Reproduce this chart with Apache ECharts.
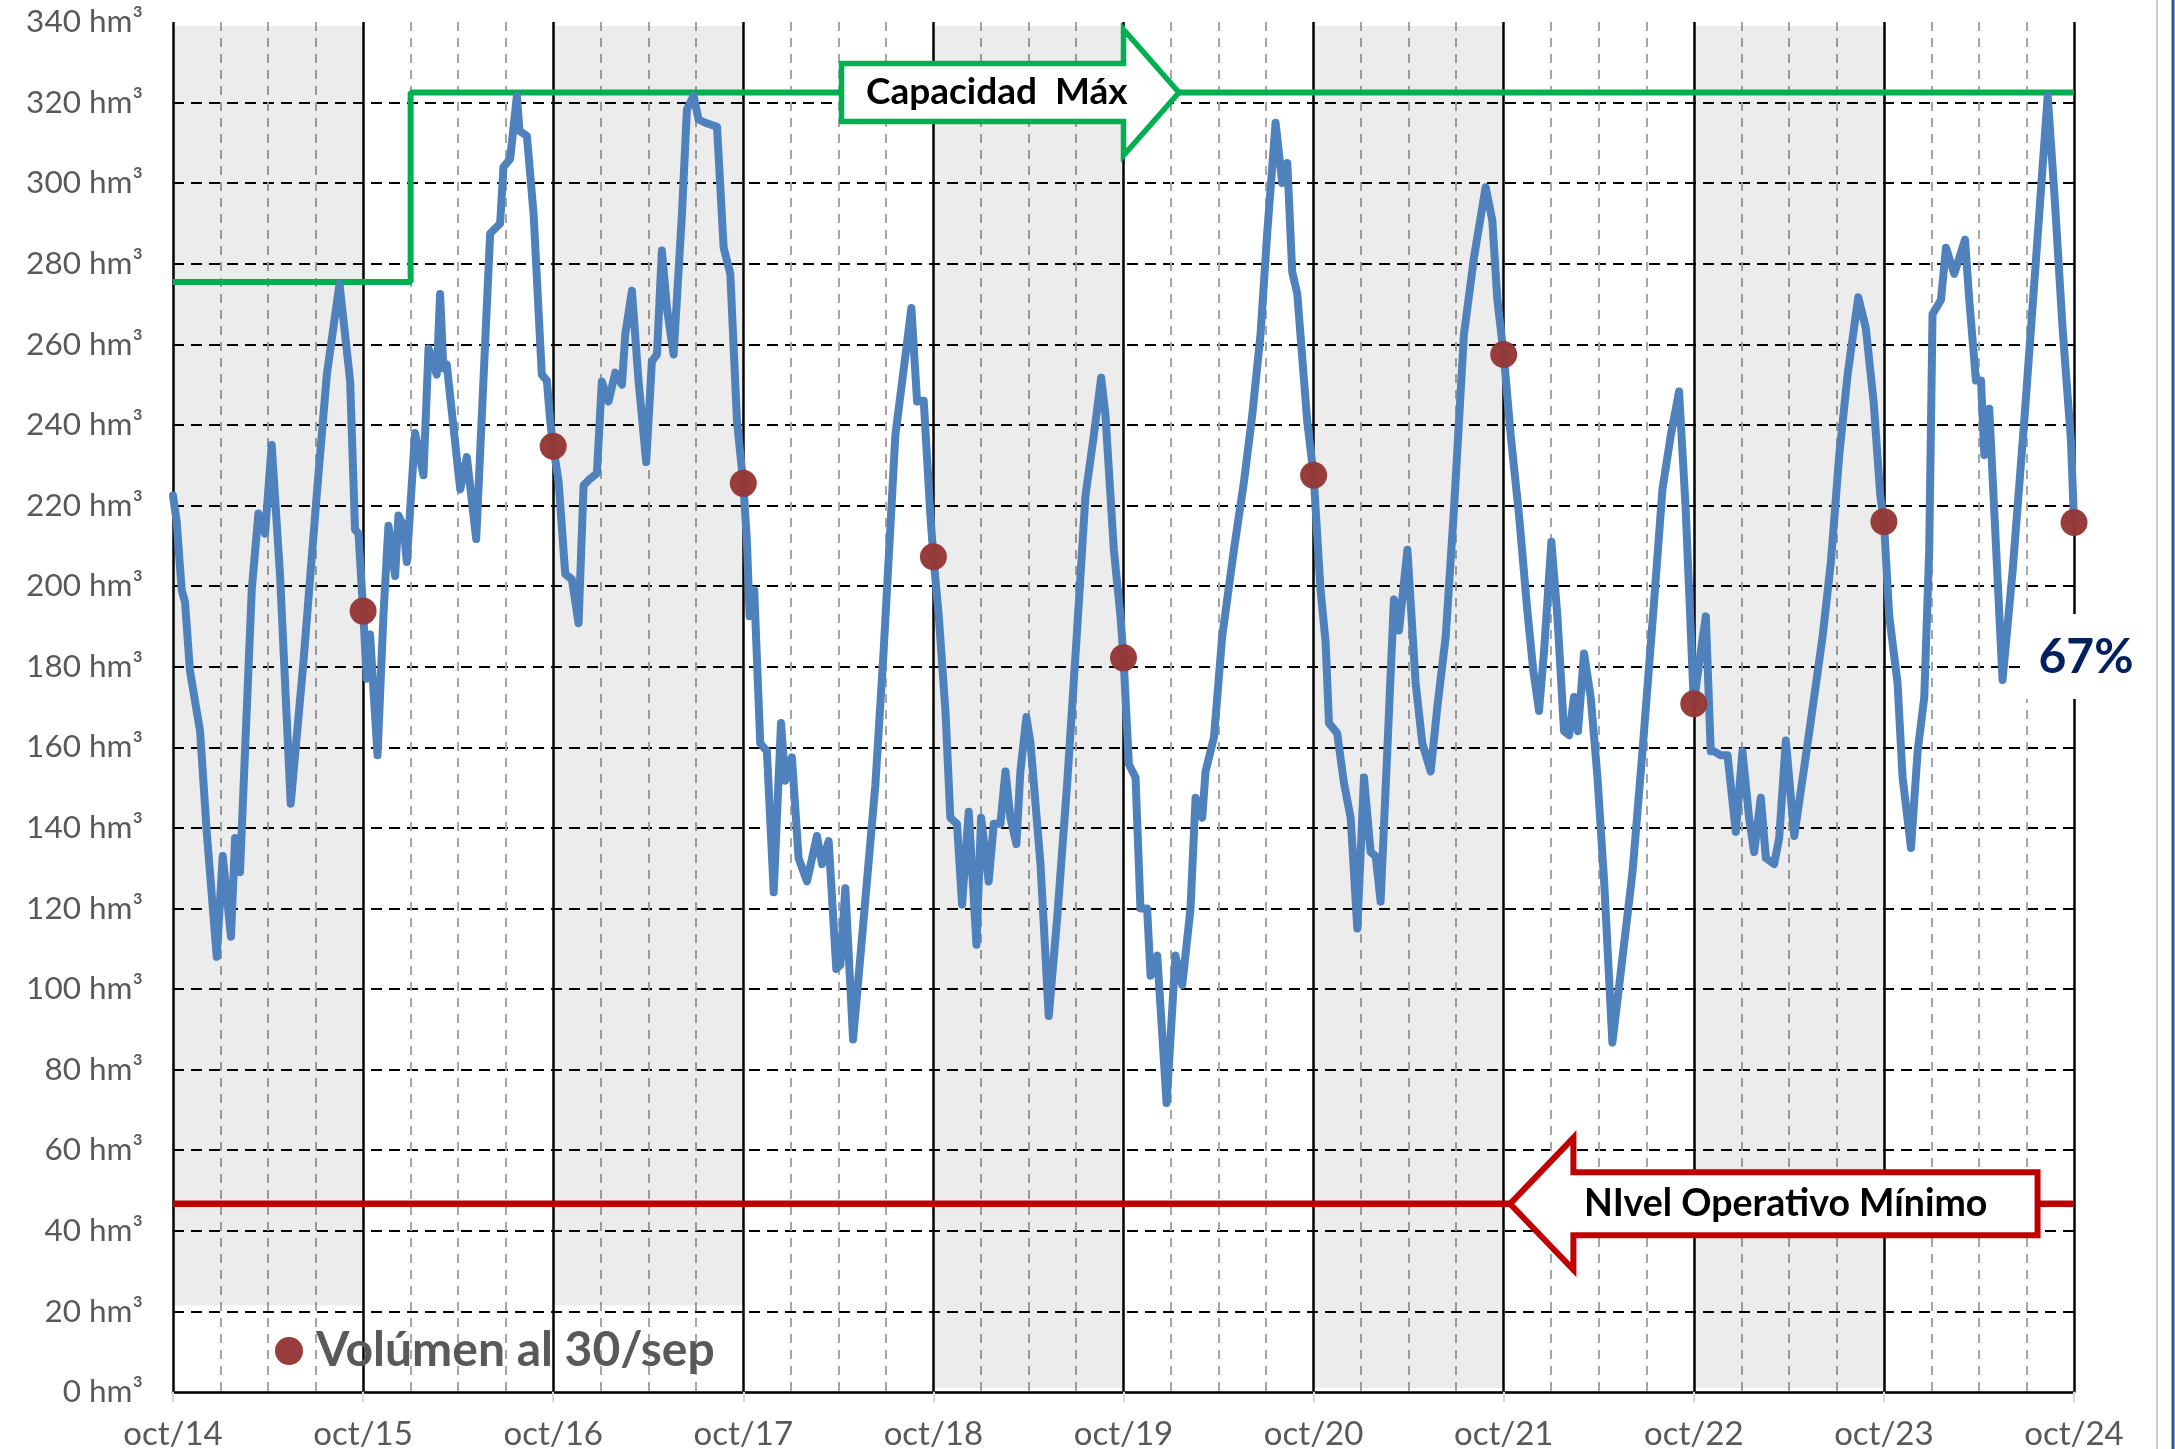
<!DOCTYPE html>
<html>
<head>
<meta charset="utf-8">
<script src="https://cdn.jsdelivr.net/npm/echarts@6/dist/echarts.min.js"></script>
<style>
  html, body { margin: 0; padding: 0; background: #fff; }
  #chart { width: 2175px; height: 1449px; }
</style>
</head>
<body>
<div id="chart"></div>
<script>
// months counted from oct/14 (0) to oct/24 (120)
const yearLabels = ['oct/14', 'oct/15', 'oct/16', 'oct/17', 'oct/18', 'oct/19', 'oct/20', 'oct/21', 'oct/22', 'oct/23', 'oct/24'];

const months = [
  0, 0.23, 0.55, 0.76, 1.07, 1.71, 2.13, 2.76, 3.14, 3.66, 3.92, 4.23, 4.97, 5.39, 5.81, 6.23, 6.76, 7.43, 8.23, 9.07, 9.71, 10.51, 11.18, 11.49, 11.71,
  12, 12.23, 12.44, 12.91, 13.28, 13.6, 14.02, 14.23, 14.55, 14.76, 15.28, 15.81, 16.13, 16.65, 16.86, 17.07, 17.28, 18.13, 18.55, 19.14, 20.02, 20.65, 20.86, 21.28, 21.71, 21.87, 22.34, 22.76, 23.28, 23.6, 23.81,
  24, 24.34, 24.76, 25.18, 25.6, 25.92, 26.34, 26.76, 27.07, 27.49, 27.92, 28.34, 28.55, 28.97, 29.39, 29.87, 30.23, 30.55, 30.86, 31.18, 31.6, 32.13, 32.44, 32.86, 33.18, 33.6, 34.34, 34.76, 35.18, 35.6,
  36, 36.23, 36.4, 36.69, 37.07, 37.49, 37.92, 38.38, 38.65, 39.07, 39.49, 40.02, 40.65, 40.97, 41.39, 41.87, 42.13, 42.44, 42.93, 43.6, 44.34, 44.86, 45.6, 46.13, 46.61, 46.97, 47.39, 47.81,
  48, 48.34, 48.76, 49.07, 49.49, 49.81, 50.23, 50.72, 51.01, 51.49, 51.81, 52.23, 52.55, 52.86, 53.24, 53.49, 53.87, 54.13, 54.76, 55.28, 55.81, 56.44, 57.07, 57.6, 58.13, 58.59, 58.86, 59.39, 59.81,
  60, 60.34, 60.76, 61.07, 61.49, 61.71, 62.13, 62.72, 63.28, 63.71, 64.23, 64.55, 64.97, 65.18, 65.71, 66.23, 66.97, 67.6, 68.13, 68.65, 69.07, 69.6, 70.02, 70.34, 70.65, 70.97, 71.6,
  72, 72.23, 72.44, 72.76, 72.97, 73.49, 73.92, 74.34, 74.76, 75.18, 75.6, 75.92, 76.23, 76.65, 77.07, 77.39, 77.92, 78.44, 78.86, 79.39, 79.81, 80.34, 80.86, 81.49, 82.13, 82.86, 83.28, 83.6,
  84, 84.44, 84.97, 85.49, 85.87, 86.23, 86.55, 87.01, 87.39, 87.81, 88.13, 88.44, 88.69, 89.07, 89.49, 89.92, 90.34, 90.86, 91.49, 92.13, 92.76, 93.49, 94.02, 94.55, 95.07, 95.49,
  96, 96.34, 96.76, 97.07, 97.28, 97.71, 98.13, 98.65, 99.07, 99.49, 99.81, 100.23, 100.55, 101.07, 101.39, 101.81, 102.34, 102.97, 103.6, 104.13, 104.65, 105.18, 105.71, 106.38, 106.86, 107.35, 107.77,
  108, 108.34, 108.86, 109.18, 109.71, 110.13, 110.55, 110.86, 111.07, 111.6, 111.92, 112.44, 113.12, 113.39, 113.81, 114.13, 114.34, 114.65, 115.49, 116.13, 116.86, 117.6, 118.34, 118.76, 119.28, 119.81, 120
];

const volume = [
  222.5, 216, 199, 196, 179, 164, 139, 108, 133, 113, 137.5, 129, 199, 218, 213, 235, 202.5, 146, 181, 222.5, 252.5, 275, 251, 214, 213,
  194, 177, 188, 158, 192.5, 215, 202.5, 217.5, 215, 206, 238, 227.5, 259, 252.5, 272.5, 254, 255, 224, 232, 211.7, 287.5, 290, 304, 306, 321.7, 313, 311.7, 292.5, 252.5, 251, 241,
  234.7, 226, 203, 201.7, 190.8, 225, 226.7, 228, 250.8, 245.8, 253, 250, 262.5, 273.3, 250.8, 230.8, 255.8, 257.5, 283.3, 269, 257.5, 292.5, 318.3, 321.7, 315.8, 315, 314, 284, 277.5, 241,
  225.5, 211, 192.5, 199, 161, 159, 124, 166, 151.7, 157.5, 132.5, 126.7, 138, 131, 136.7, 105, 106, 125, 87.5, 117.5, 150.8, 184, 237.5, 254, 269, 245.8, 246, 217.5,
  207.3, 192.5, 169, 142.5, 141, 121, 144, 111, 142.5, 126.7, 141, 141, 154, 142.5, 136, 154, 167.5, 161, 131, 93.3, 117.5, 150.8, 189, 222.5, 237.5, 251.7, 242.5, 209, 192.5,
  182.2, 155.8, 152.5, 120, 120, 103.3, 108.3, 71.7, 108.3, 101, 120, 147.5, 142.5, 154, 162.5, 187.5, 209, 225.8, 242.5, 262.5, 287.5, 315, 300, 305, 278, 272.5, 240.8,
  227.5, 212.5, 199, 186, 166, 163.5, 151, 142.5, 115, 152.5, 134, 133, 121.7, 159, 196.7, 189, 209, 176, 161, 154, 170, 187.5, 219, 262.5, 281.7, 299, 290.8, 271,
  257.5, 237.5, 217.5, 194, 179, 169, 184, 211, 192.5, 164, 163, 172.5, 164, 183.3, 172.5, 152.5, 126.7, 86.7, 107.5, 129, 159, 196, 224, 237.5, 248.3, 219,
  170.8, 181, 192.5, 159, 159, 158, 158, 139, 159, 142.5, 134, 147.5, 132.5, 131, 137.5, 161.7, 138, 155, 172.5, 187.5, 205.8, 232.5, 252.5, 271.7, 264, 245.8, 222.5,
  216, 192.5, 176, 152.5, 135, 159, 172.5, 209, 267.5, 271, 284, 277.5, 286, 271, 251, 251, 232.5, 244, 176.7, 204, 241, 281, 321.7, 297.5, 264, 236, 215.8
];

// volume at 30/sep of each year
const sepMonths = [12, 24, 36, 48, 60, 72, 84, 96, 108, 120];
const sepVolume = [193.8, 234.7, 225.5, 207.3, 182.2, 227.5, 257.5, 170.8, 216, 215.8];

// capacidad maxima (step) and nivel operativo minimo
const capMonths = [0, 15, 15, 120];
const capValues = [275.5, 275.5, 322.5, 322.5];
const minLevel = 46.7;

// shaded years (start month, bottom value)
const bandStarts = [0, 24, 48, 72, 96];
const bandBottoms = [21.5, 21.5, 1, 1, 1];

const lastPct = '67%';

const FONT = 'Lato';
const chart = echarts.init(document.getElementById('chart'));

chart.setOption({
  animation: false,
  backgroundColor: '#fff',
  grid: { left: 173, right: 101, top: 22, bottom: 57, containLabel: false, outerBoundsMode: 'none' },
  legend: {
    data: ['Volúmen al 30/sep'],
    left: 270,
    top: 1322,
    icon: 'circle',
    itemWidth: 28,
    itemHeight: 28,
    textStyle: { fontFamily: FONT, fontSize: 48, fontWeight: 'bold', color: '#595959', padding: [0, 0, 0, 8] }
  },
  xAxis: [
    {
      type: 'value',
      min: 0,
      max: 120,
      interval: 12,
      axisLine: { show: true, onZero: false, lineStyle: { color: '#d9d9d9', width: 3 } },
      axisTick: { show: true, length: 10, lineStyle: { color: '#d9d9d9', width: 2 } },
      axisLabel: {
        margin: 26,
        fontFamily: FONT,
        fontSize: 33,
        color: '#595959',
        formatter: (v) => yearLabels[Math.round(v / 12)]
      },
      splitLine: { show: true, lineStyle: { color: '#000', width: 2.5, type: 'solid' } },
      minorTick: { show: false, splitNumber: 4 },
      minorSplitLine: { show: true, lineStyle: { color: '#a6a6a6', width: 2, type: [9, 7] } }
    },
    {
      type: 'value',
      position: 'top',
      min: 0,
      max: 120,
      axisLine: { show: true, lineStyle: { color: '#000', width: 2.5 } },
      axisTick: { show: false },
      axisLabel: { show: false },
      splitLine: { show: false }
    }
  ],
  yAxis: {
    type: 'value',
    min: 0,
    max: 340,
    interval: 20,
    axisLine: { show: false },
    axisTick: { show: false },
    axisLabel: {
      margin: 30,
      fontFamily: FONT,
      fontSize: 31.5,
      color: '#595959',
      formatter: '{value} hm³'
    },
    splitLine: {
      show: true,
      showMinLine: false,
      showMaxLine: false,
      lineStyle: { color: '#000', width: 2, type: [11, 7] }
    }
  },
  series: [
    {
      name: 'Volumen',
      type: 'line',
      z: 4,
      data: months.map((m, i) => [m, volume[i]]),
      showSymbol: false,
      symbol: 'none',
      lineStyle: { color: '#4f81bd', width: 8, join: 'round', cap: 'round' },
      silent: true
    },
    {
      name: 'Capacidad Máx',
      type: 'line',
      z: 3,
      data: capMonths.map((m, i) => [m, capValues[i]]),
      symbol: 'none',
      lineStyle: { color: '#00b050', width: 6 },
      silent: true
    },
    {
      name: 'Nivel Operativo Mínimo',
      type: 'line',
      z: 2,
      data: [[0, minLevel], [120, minLevel]],
      symbol: 'none',
      lineStyle: { color: '#c00000', width: 6.5 },
      silent: true,
      markArea: {
        silent: true,
        itemStyle: { color: 'rgba(0,0,0,0.075)' },
        data: bandStarts.map((s, i) => [
          { xAxis: s, yAxis: bandBottoms[i] },
          { xAxis: s + 12, yAxis: 339 }
        ])
      }
    },
    {
      name: 'Volúmen al 30/sep',
      type: 'scatter',
      z: 5,
      data: sepMonths.map((m, i) => [m, sepVolume[i]]),
      symbol: 'circle',
      symbolSize: 27,
      itemStyle: { color: '#953735', opacity: 0.97 },
      silent: true
    }
  ]
});

// annotations placed from data coordinates
const px = (m, v) => chart.convertToPixel({ seriesIndex: 0 }, [m, v]);
const capY = px(0, capValues[3])[1];
const gL = px(42.2, 0)[0], gS = px(60, 0)[0], gT = px(63.5, 0)[0];
const minY = px(0, minLevel)[1];
const rT = px(84.4, 0)[0], rB = px(88.4, 0)[0], rE = px(117.7, 0)[0];
const pct = px(120, 182.4);

chart.setOption({
  graphic: [
    {
      type: 'polygon',
      z: 100,
      shape: { points: [[gL, capY - 29], [gS, capY - 29], [gS, capY - 63], [gT, capY], [gS, capY + 63], [gS, capY + 29], [gL, capY + 29]] },
      style: { fill: '#fff', stroke: '#00b050', lineWidth: 5.5, lineJoin: 'miter' }
    },
    {
      type: 'text',
      z: 101,
      style: { text: 'Capacidad  Máx', x: px(52, 0)[0], y: capY, align: 'center', verticalAlign: 'middle', font: 'bold 37px Lato', fill: '#000' }
    },
    {
      type: 'polygon',
      z: 100,
      shape: { points: [[rT, minY], [rB, minY - 66], [rB, minY - 31.5], [rE, minY - 31.5], [rE, minY + 31.5], [rB, minY + 31.5], [rB, minY + 66]] },
      style: { fill: '#fff', stroke: '#c00000', lineWidth: 6, lineJoin: 'miter' }
    },
    {
      type: 'text',
      z: 101,
      style: { text: 'NIvel Operativo Mínimo', x: px(101.8, 0)[0], y: minY, align: 'center', verticalAlign: 'middle', font: 'bold 37.5px Lato', fill: '#000' }
    },
    {
      type: 'rect',
      z: 100,
      shape: { x: pct[0] - 50, y: pct[1] - 43, width: 132, height: 85 },
      style: { fill: '#fff' }
    },
    {
      type: 'text',
      z: 101,
      style: { text: lastPct, x: pct[0] + 12, y: pct[1], align: 'center', verticalAlign: 'middle', font: 'bold 48px Lato', fill: '#002060' }
    },
    {
      type: 'line',
      z: 100,
      shape: { x1: 2157, y1: 0, x2: 2157, y2: 1449 },
      style: { stroke: '#c9c9c9', lineWidth: 2 }
    },
    {
      type: 'line',
      z: 100,
      shape: { x1: 2173, y1: 0, x2: 2173, y2: 1449 },
      style: { stroke: '#2e5597', lineWidth: 3 }
    }
  ]
});
</script>
</body>
</html>
